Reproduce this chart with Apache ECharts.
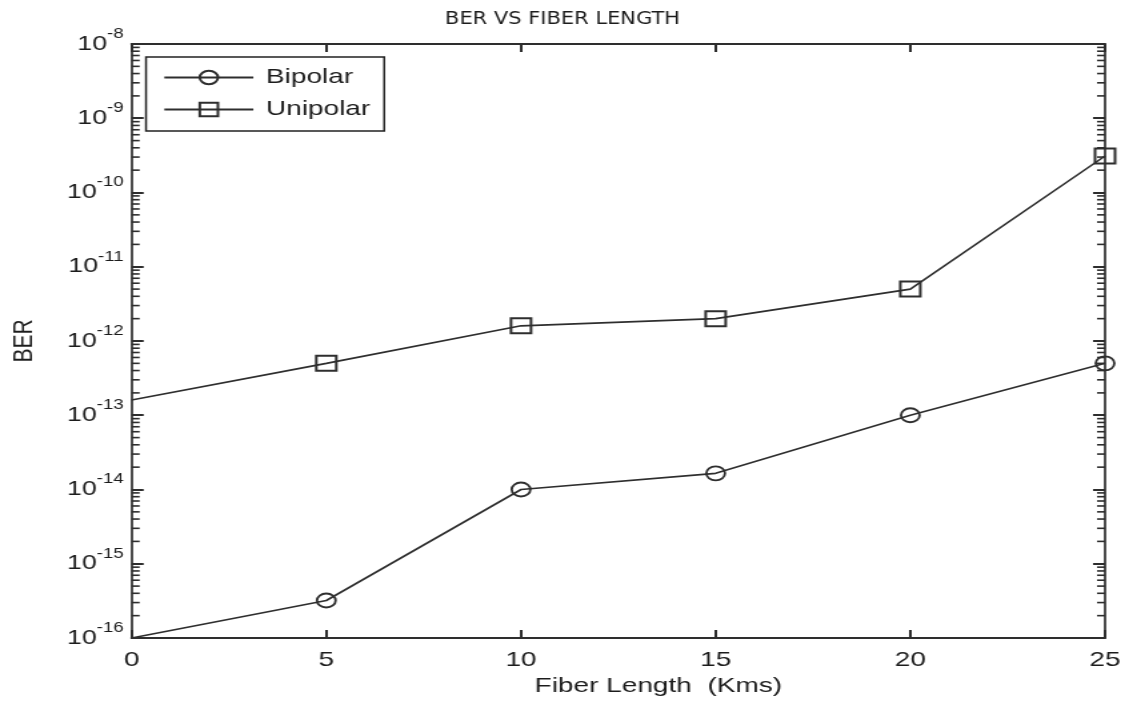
<!DOCTYPE html>
<html>
<head>
<meta charset="utf-8">
<script src="https://cdn.jsdelivr.net/npm/echarts@6/dist/echarts.min.js"></script>
<style>
html,body{margin:0;padding:0;background:#fff;overflow:hidden;}
#wrap{width:1125px;height:710px;overflow:hidden;}
#chart{width:844px;height:710px;transform:scaleX(1.33294);transform-origin:0 0;}
</style>
</head>
<body>
<div id="wrap"><div id="chart"></div></div>
<script>
// ---- data ----
const fiberLengthKm = [0, 5, 10, 15, 20, 25];
const berBipolar = [1e-16, 3.2e-16, 1e-14, 1.65e-14, 1e-13, 5e-13];
const berUnipolar = [1.6e-13, 5e-13, 1.6e-12, 2e-12, 5e-12, 3.1e-10];
const xTickValues = [0, 5, 10, 15, 20, 25];
const yDecadeExponents = [-16, -15, -14, -13, -12, -11, -10, -9, -8];
const minorMultipliers = [2, 3, 4, 5, 6, 7, 8, 9];
const seriesNames = ['Bipolar', 'Unipolar'];

// The reference figure is horizontally stretched (~1.333x); the chart is drawn
// at 844px wide and stretched back to 1125px with CSS.
const SX = 1125 / 844;
const hx = v => v / SX; // convert a horizontal pixel measure of the final picture

const FONT = '"Liberation Sans", Arial, sans-serif';
const TITLE_FONT = '"Liberation Sans Narrow", "Arial Narrow", "DejaVu Sans Condensed", "Liberation Sans", sans-serif';
const INK = '#1c1c1c';
const LINE = '#2e2e2e';

const yMin = Math.pow(10, yDecadeExponents[0]);
const yMax = Math.pow(10, yDecadeExponents[yDecadeExponents.length - 1]);
const xMin = xTickValues[0];
const xMax = xTickValues[xTickValues.length - 1];

// minor tick values for the log axis (decoration only)
const minorTickData = [];
for (let i = 0; i < yDecadeExponents.length - 1; i++) {
  for (const m of minorMultipliers) {
    minorTickData.push([xMin, m * Math.pow(10, yDecadeExponents[i])]);
  }
}

function seriesData(values) {
  return fiberLengthKm.map((x, i) => {
    const item = { value: [x, values[i]] };
    if (x === xMin) item.symbol = 'none';
    return item;
  });
}

const chart = echarts.init(document.getElementById('chart'));

const yLabel = {
  show: true,
  margin: hx(8),
  fontFamily: FONT,
  color: INK,
  formatter: function (v) {
    const e = Math.round(Math.log10(v));
    return '{b|10}{e|' + e + '}';
  },
  rich: {
    b: { fontSize: 20, lineHeight: 34, fontFamily: FONT, color: INK },
    e: { fontSize: 14, lineHeight: 14, verticalAlign: 'top', fontFamily: FONT, color: INK }
  }
};

const option = {
  backgroundColor: '#ffffff',
  animation: false,
  title: {
    text: 'BER VS FIBER LENGTH',
    left: 'center',
    top: 5,
    padding: [5, 5, 5, 5 + 2 * (hx(618) - 422)],
    textStyle: { fontFamily: TITLE_FONT, fontSize: 17.5, fontWeight: 'normal', color: INK }
  },
  legend: {
    orient: 'vertical',
    left: hx(146),
    top: 57,
    data: seriesNames,
    backgroundColor: '#fff',
    borderColor: '#222',
    borderWidth: 1.5,
    borderRadius: 0,
    padding: [10, hx(14), 11, hx(17)],
    itemWidth: hx(89),
    itemHeight: 17,
    itemGap: 11,
    textStyle: { fontFamily: FONT, fontSize: 21, lineHeight: 20, color: INK, padding: [0, 0, 0, hx(6)] }
  },
  grid: { left: hx(129), top: 44, right: hx(20), bottom: 72, containLabel: false },
  xAxis: [
    {
      type: 'value',
      min: xMin, max: xMax, interval: 5,
      name: 'Fiber Length  (Kms)',
      nameLocation: 'middle',
      nameGap: 37,
      nameTextStyle: { fontFamily: FONT, fontSize: 21, color: INK, padding: [0, 0, 0, hx(80)] },
      axisLine: { show: true, onZero: false, lineStyle: { color: LINE, width: 2 } },
      axisTick: { show: true, inside: true, length: 8, lineStyle: { color: LINE, width: 2 } },
      axisLabel: { fontFamily: FONT, fontSize: 21, color: INK, margin: 12 },
      splitLine: { show: false }
    },
    {
      type: 'value',
      position: 'top',
      min: xMin, max: xMax, interval: 5,
      axisLine: { show: true, onZero: false, lineStyle: { color: LINE, width: 2 } },
      axisTick: { show: true, inside: true, length: 8, lineStyle: { color: LINE, width: 2 } },
      axisLabel: { show: false },
      splitLine: { show: false }
    }
  ],
  yAxis: [
    {
      type: 'log',
      logBase: 10,
      min: yMin, max: yMax,
      splitNumber: 8,
      name: 'BER',
      nameLocation: 'middle',
      nameGap: hx(93),
      nameRotate: 90,
      nameTextStyle: { fontFamily: FONT, fontSize: 21, color: INK },
      axisLine: { show: true, onZero: false, lineStyle: { color: LINE, width: 1.7 } },
      axisTick: { show: true, inside: true, length: hx(12), lineStyle: { color: LINE, width: 2 } },
      axisLabel: yLabel,
      splitLine: { show: false }
    },
    {
      type: 'log',
      logBase: 10,
      position: 'right',
      min: yMin, max: yMax,
      splitNumber: 8,
      axisLine: { show: true, onZero: false, lineStyle: { color: LINE, width: 1.7 } },
      axisTick: { show: true, inside: true, length: hx(12), lineStyle: { color: LINE, width: 2 } },
      axisLabel: { show: false },
      splitLine: { show: false }
    }
  ],
  series: [
    {
      name: seriesNames[0],
      type: 'line',
      data: seriesData(berBipolar),
      symbol: 'circle',
      symbolSize: [14, 14],
      showAllSymbol: true,
      clip: true,
      lineStyle: { color: LINE, width: 1.6 },
      itemStyle: { color: 'rgba(255,255,255,0)', borderColor: LINE, borderWidth: 1.8 },
      z: 3
    },
    {
      name: seriesNames[1],
      type: 'line',
      data: seriesData(berUnipolar),
      symbol: 'rect',
      symbolSize: [15, 15],
      showAllSymbol: true,
      clip: true,
      lineStyle: { color: LINE, width: 1.6 },
      itemStyle: { color: 'rgba(255,255,255,0)', borderColor: LINE, borderWidth: 2 },
      z: 3
    },
    {
      name: 'minorTicks',
      type: 'custom',
      silent: true,
      clip: false,
      data: minorTickData,
      encode: { x: 0, y: 1 },
      renderItem: function (params, api) {
        const v = api.value(1);
        const pL = api.coord([xMin, v]);
        const pR = api.coord([xMax, v]);
        const len = hx(8);
        const style = { stroke: LINE, lineWidth: 1.6 };
        return {
          type: 'group',
          children: [
            { type: 'line', shape: { x1: pL[0], y1: pL[1], x2: pL[0] + len, y2: pL[1] }, style: style },
            { type: 'line', shape: { x1: pR[0], y1: pR[1], x2: pR[0] - len, y2: pR[1] }, style: style }
          ]
        };
      },
      z: 2
    }
  ]
};

chart.setOption(option);
</script>
</body>
</html>
